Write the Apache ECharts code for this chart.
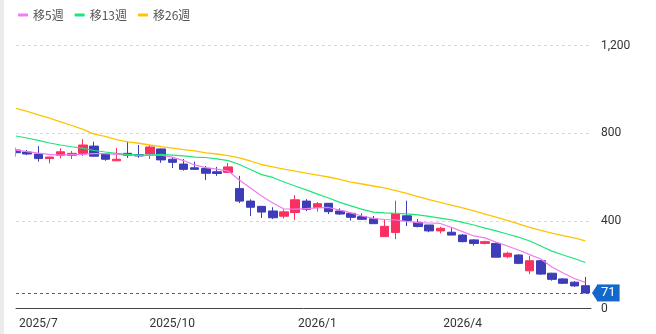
<!DOCTYPE html>
<html>
<head>
<meta charset="utf-8">
<script src="https://cdn.jsdelivr.net/npm/echarts@6/dist/echarts.min.js"></script>
<style>
  body { margin: 0; background: #fff; }
  #chart { width: 656px; height: 334px; }
  #edge { position: absolute; left: 0; top: 0; width: 4px; height: 334px; background: #ebebeb; }
</style>
</head>
<body>
<div id="chart"></div>
<div id="edge"></div>
<script>
// 週足 (52本)
const opens = [723, 714, 705, 684, 699, 699, 708, 741, 705, 674, 708, 702, 705, 728, 681, 659, 642, 639, 624, 621, 547, 490, 466, 445, 421, 438, 490, 461, 480, 445, 434, 419, 409, 328, 347, 423, 393, 381, 354, 348, 335, 313, 297, 297, 236, 244, 172, 218, 161, 135, 120, 104];
const closes = [711, 705, 684, 691, 715, 708, 746, 695, 681, 681, 699, 696, 737, 678, 667, 635, 635, 617, 616, 646, 490, 462, 440, 414, 441, 496, 453, 478, 442, 431, 416, 407, 387, 375, 433, 401, 374, 354, 366, 335, 305, 297, 305, 234, 252, 206, 218, 157, 133, 115, 103, 71];
const lows = [693, 700, 670, 662, 685, 682, 696, 693, 674, 674, 687, 688, 682, 665, 641, 629, 632, 586, 605, 618, 481, 422, 413, 408, 411, 404, 444, 442, 431, 427, 401, 404, 386, 328, 316, 376, 370, 348, 343, 335, 302, 287, 293, 234, 229, 202, 157, 153, 127, 112, 99, 71];
const highs = [734, 723, 741, 693, 731, 719, 773, 761, 707, 732, 761, 746, 746, 730, 691, 682, 670, 650, 646, 664, 605, 498, 468, 462, 452, 517, 499, 486, 480, 457, 437, 434, 422, 408, 492, 492, 408, 381, 373, 367, 340, 317, 309, 300, 259, 247, 240, 221, 163, 138, 125, 144];

// 移動平均 (画面から読み取り)
const ma5 = [723, 716, 709, 703, 700, 702, 703, 707, 707, 703, 700, 698, 700, 700, 691, 675, 655, 643, 636, 627, 586, 550, 513, 481, 454, 453, 456, 459, 461, 449, 436, 422, 411, 406, 404, 397, 392, 390, 388, 370, 351, 331, 322, 303, 285, 267, 246, 226, 189, 162, 137, 119];
const ma13 = [787, 778, 767, 755, 746, 738, 731, 721, 714, 708, 703, 700, 700, 703, 700, 696, 691, 689, 683, 675, 657, 634, 611, 598, 577, 559, 541, 522, 504, 484, 468, 452, 440, 436, 434, 432, 427, 420, 412, 404, 393, 381, 367, 354, 340, 326, 308, 285, 262, 244, 228, 210];
const ma26 = [913, 899, 883, 869, 852, 835, 817, 796, 785, 771, 760, 754, 746, 739, 732, 725, 719, 710, 705, 698, 687, 673, 657, 646, 636, 627, 618, 609, 600, 589, 577, 568, 559, 550, 538, 525, 511, 497, 484, 472, 459, 445, 431, 417, 402, 386, 370, 356, 344, 333, 322, 308];

const xTickIdx = [2, 14, 27, 40];
const xTickText = ['2025/7', '2025/10', '2026/1', '2026/4'];

const upColor = '#fa3160';
const downColor = '#3d3db8';

const chart = echarts.init(document.getElementById('chart'));

const candles = opens.map((o, i) => [i, o, closes[i], lows[i], highs[i]]);
const toXY = (arr) => arr.map((v, i) => [i, v]);
const lastClose = closes[closes.length - 1];

chart.setOption({
  animation: false,
  textStyle: { fontFamily: 'Roboto, "Noto Sans CJK JP", sans-serif' },
  legend: {
    left: 13,
    top: 4,
    icon: 'roundRect',
    itemWidth: 10,
    itemHeight: 3,
    itemGap: 11,
    textStyle: { color: '#555', fontSize: 12, fontFamily: '"Noto Sans CJK JP", sans-serif' },
    data: ['移5週', '移13週', '移26週']
  },
  grid: { left: 16, right: 65, top: 45.5, bottom: 25.5 },
  xAxis: {
    type: 'value',
    min: 0,
    max: 51.5,
    axisLine: { show: true, lineStyle: { color: '#444', width: 1 } },
    axisTick: { show: false },
    splitLine: { show: false },
    axisLabel: {
      customValues: xTickIdx,
      color: '#333',
      fontSize: 12,
      margin: 9,
      formatter: (v) => xTickText[xTickIdx.indexOf(Math.round(v))] || ''
    }
  },
  yAxis: {
    type: 'value',
    position: 'right',
    min: 0,
    max: 1200,
    interval: 400,
    axisLine: { show: false },
    axisTick: { show: false },
    axisLabel: { color: '#333', fontSize: 12, margin: 10 },
    splitLine: { lineStyle: { color: '#d9d9d9', type: [3, 3] } }
  },
  series: [
    {
      type: 'candlestick',
      data: candles,
      barWidth: 9,
      itemStyle: {
        color: upColor,
        color0: downColor,
        borderColor: upColor,
        borderColor0: downColor,
        borderWidth: 1
      },
      markLine: {
        symbol: 'none',
        silent: true,
        data: [{ yAxis: lastClose }],
        lineStyle: { color: '#1f6fd8', type: [3, 3], width: 1 },
        label: {
          position: 'end',
          distance: 6,
          formatter: String(lastClose),
          color: '#fff',
          fontSize: 13,
          lineHeight: 13,
          backgroundColor: '#1468cc',
          padding: [2, 4]
        }
      }
    },
    { name: '移5週', type: 'line', data: toXY(ma5), symbol: 'none', lineStyle: { color: '#f07cf0', width: 1.2 }, itemStyle: { color: '#f07cf0' } },
    { name: '移13週', type: 'line', data: toXY(ma13), symbol: 'none', lineStyle: { color: '#1ee57a', width: 1.2 }, itemStyle: { color: '#1ee57a' } },
    { name: '移26週', type: 'line', data: toXY(ma26), symbol: 'none', lineStyle: { color: '#ffc400', width: 1.3 }, itemStyle: { color: '#ffc400' } }
  ]
});

// 終値ラベルの矢印と、左端で切れるローソク足のマスク
const p = chart.convertToPixel({ gridIndex: 0 }, [51.5, lastClose]);
const leftTop = chart.convertToPixel({ gridIndex: 0 }, [0, 1200]);
const leftBottom = chart.convertToPixel({ gridIndex: 0 }, [0, 0]);
chart.setOption({
  graphic: [
    {
      type: 'polygon',
      silent: true,
      shape: { points: [[p[0] + 1, p[1]], [p[0] + 6.5, p[1] - 8.5], [p[0] + 6.5, p[1] + 8.5]] },
      style: { fill: '#1468cc' }
    },
    {
      type: 'rect',
      silent: true,
      z: 100,
      shape: { x: 0, y: leftTop[1], width: leftTop[0] - 0.5, height: leftBottom[1] - leftTop[1] - 1 },
      style: { fill: '#fff' }
    }
  ]
});
</script>
</body>
</html>
